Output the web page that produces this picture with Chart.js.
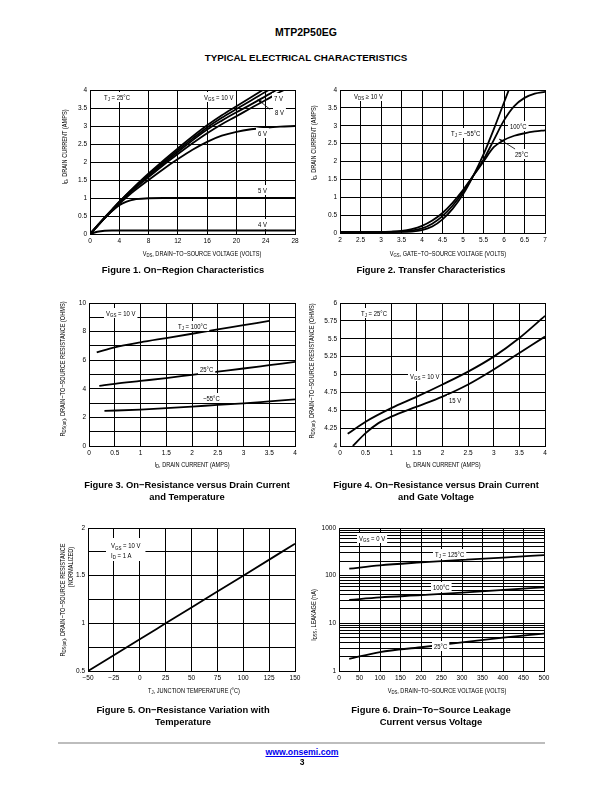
<!DOCTYPE html>
<html>
<head>
<meta charset="utf-8">
<script src="https://cdn.jsdelivr.net/npm/chart.js@4/dist/chart.umd.min.js"></script>
<style>
  body { margin: 0; width: 612px; height: 792px; background: #fff; position: relative; color: #000;
         font-family: "Liberation Sans", Arial, sans-serif; overflow: hidden; }
  canvas { position: absolute; }
  .c { position: absolute; transform: translate(-50%, -50%); white-space: nowrap; }
  .ax { font-size: 7px; transform: translate(-50%, -50%) scaleX(0.8); }
  .yt { transform: translate(-50%, -50%) rotate(-90deg) scaleX(0.8); }
  .cap { font-weight: bold; font-size: 9.4px; text-align: center; line-height: 11.5px; }
  sub { font-size: 75%; vertical-align: -1.5px; line-height: 0; }
</style>
</head>
<body>

<div class="c" style="left:306px;top:32px;font-weight:bold;font-size:10.5px">MTP2P50EG</div>
<div class="c" style="left:306px;top:57px;font-weight:bold;font-size:9.8px">TYPICAL ELECTRICAL CHARACTERISTICS</div>

<canvas id="c1"></canvas>
<canvas id="c2"></canvas>
<canvas id="c3"></canvas>
<canvas id="c4"></canvas>
<canvas id="c5"></canvas>
<canvas id="c6"></canvas>

<!-- axis titles -->
<div class="c ax yt" style="left:64px;top:147px">I<sub>D</sub>, DRAIN CURRENT (AMPS)</div>
<div class="c ax" style="left:202px;top:253px">V<sub>DS</sub>, DRAIN−TO−SOURCE VOLTAGE (VOLTS)</div>
<div class="c ax yt" style="left:313px;top:143px">I<sub>D</sub>, DRAIN CURRENT (AMPS)</div>
<div class="c ax" style="left:448px;top:253px">V<sub>GS</sub>, GATE−TO−SOURCE VOLTAGE (VOLTS)</div>

<div class="c ax yt" style="left:62px;top:369px">R<sub>DS(on)</sub>, DRAIN−TO−SOURCE RESISTANCE (OHMS)</div>
<div class="c ax" style="left:192px;top:464px">I<sub>D</sub>, DRAIN CURRENT (AMPS)</div>
<div class="c ax yt" style="left:311px;top:371px">R<sub>DS(on)</sub>, DRAIN−TO−SOURCE RESISTANCE (OHMS)</div>
<div class="c ax" style="left:443px;top:464px">I<sub>D</sub>, DRAIN CURRENT (AMPS)</div>

<div class="c ax yt" style="left:62px;top:600px">R<sub>DS(on)</sub>, DRAIN−TO−SOURCE RESISTANCE</div>
<div class="c ax yt" style="left:70px;top:567px">(NORMALIZED)</div>
<div class="c ax" style="left:194px;top:690px">T<sub>J</sub>, JUNCTION TEMPERATURE (°C)</div>
<div class="c ax yt" style="left:313px;top:615px">I<sub>DSS</sub>, LEAKAGE (nA)</div>
<div class="c ax" style="left:447px;top:690px">V<sub>DS</sub>, DRAIN−TO−SOURCE VOLTAGE (VOLTS)</div>

<!-- captions -->
<div class="c cap" style="left:183px;top:270px">Figure 1. On−Region Characteristics</div>
<div class="c cap" style="left:431px;top:270px">Figure 2. Transfer Characteristics</div>
<div class="c cap" style="left:187px;top:490px">Figure 3. On−Resistance versus Drain Current<br>and Temperature</div>
<div class="c cap" style="left:436px;top:490px">Figure 4. On−Resistance versus Drain Current<br>and Gate Voltage</div>
<div class="c cap" style="left:183px;top:715px">Figure 5. On−Resistance Variation with<br>Temperature</div>
<div class="c cap" style="left:431px;top:715px">Figure 6. Drain−To−Source Leakage<br>Current versus Voltage</div>

<!-- footer -->
<div style="position:absolute;left:58px;top:742px;width:487px;height:2px;background:#bdbdbd"></div>
<div class="c" style="left:302px;top:752px;font-weight:bold;font-size:8.7px;color:#0000ee;text-decoration:underline">www.onsemi.com</div>
<div class="c" style="left:302px;top:762px;font-weight:bold;font-size:8.5px">3</div>

<script>
// ---------- Figure 1: On-region characteristics (TJ = 25°C)
const vds1 = [0, 1, 2, 3, 4, 5, 6, 8, 10, 12, 14, 16, 18, 20, 22, 24, 26, 28];
const id10V = [0, 0.23, 0.46, 0.68, 0.9, 1.1, 1.3, 1.68, 2.04, 2.38, 2.71, 3.02, 3.3, 3.55, 3.8, 4.05, 4.3, 4.5];
const id9V  = [0, 0.23, 0.45, 0.67, 0.89, 1.09, 1.28, 1.65, 2.0, 2.33, 2.65, 2.96, 3.23, 3.47, 3.71, 3.95, 4.18, 4.4];
const id8V  = [0, 0.22, 0.45, 0.66, 0.88, 1.08, 1.26, 1.62, 1.96, 2.28, 2.6, 2.9, 3.15, 3.38, 3.6, 3.83, 4.06, 4.28];
const id7V  = [0, 0.22, 0.44, 0.65, 0.86, 1.06, 1.24, 1.58, 1.91, 2.22, 2.52, 2.8, 3.05, 3.27, 3.5, 3.72, 3.95, 4.15];
const id6V  = [0, 0.22, 0.44, 0.64, 0.84, 1.02, 1.19, 1.5, 1.8, 2.08, 2.34, 2.56, 2.73, 2.84, 2.91, 2.95, 2.98, 3.0];
const id5V  = [0, 0.22, 0.44, 0.64, 0.8, 0.9, 0.96, 0.99, 1.0, 1.0, 1.0, 1.0, 1.0, 1.0, 1.0, 1.0, 1.0, 1.0];
const id4V  = [0, 0.06, 0.09, 0.1, 0.1, 0.1, 0.1, 0.1, 0.1, 0.1, 0.1, 0.1, 0.1, 0.1, 0.1, 0.1, 0.1, 0.1];

// ---------- Figure 2: Transfer characteristics (VDS >= 10 V)
const vgs2  = [2, 2.5, 3, 3.25, 3.5, 3.75, 4, 4.25, 4.5, 4.75, 5, 5.25, 5.5, 5.75, 6, 6.25, 6.5, 6.75, 7];
const idM55 = [0.03, 0.03, 0.03, 0.03, 0.03, 0.04, 0.08, 0.18, 0.38, 0.68, 1.08, 1.6, 2.2, 2.9, 3.65, 4.4, null, null, null];
const id25C = [0.03, 0.03, 0.03, 0.03, 0.04, 0.07, 0.13, 0.26, 0.47, 0.77, 1.15, 1.6, 2.05, 2.6, 3.15, 3.55, 3.78, 3.9, 3.95];
const id100C = [0.03, 0.03, 0.03, 0.04, 0.06, 0.11, 0.2, 0.35, 0.56, 0.85, 1.2, 1.6, 2.0, 2.4, 2.6, 2.72, 2.79, 2.84, 2.87];

// ---------- Figure 3: RDS(on) vs ID and temperature (VGS = 10 V)
const rds100 = [[0.15, 6.55], [0.5, 6.9], [1, 7.25], [1.5, 7.55], [2, 7.85], [2.5, 8.15], [3, 8.45], [3.5, 8.75]];
const rds25  = [[0.2, 4.2], [0.5, 4.35], [1, 4.55], [1.5, 4.75], [2, 4.98], [2.5, 5.2], [3, 5.42], [3.5, 5.65], [4, 5.88]];
const rdsM55 = [[0.3, 2.45], [1, 2.55], [1.5, 2.65], [2, 2.76], [2.5, 2.87], [3, 2.98], [3.5, 3.12], [4, 3.26]];

// ---------- Figure 4: RDS(on) vs ID and gate voltage (TJ = 25°C)
const rdsV10 = [[0.15, 4.17], [0.5, 4.34], [1, 4.53], [1.5, 4.69], [2, 4.86], [2.5, 5.04], [3, 5.25], [3.5, 5.51], [4, 5.82]];
const rdsV15 = [[0.25, 4.0], [0.5, 4.18], [0.75, 4.32], [1, 4.41], [1.5, 4.55], [2, 4.69], [2.5, 4.86], [3, 5.07], [3.5, 5.3], [4, 5.53]];

// ---------- Figure 5: normalized RDS(on) vs temperature
const tj5 = [-50, 0, 25, 50, 100, 150];
const rdsNorm = [0.5, 0.833, 1.0, 1.167, 1.5, 1.835];

// ---------- Figure 6: IDSS leakage vs VDS (log scale)
const vds6 = [25, 100, 200, 300, 400, 500];
const idss125 = [140, 165, 190, 215, 240, 270];
const idss100 = [31, 35, 39, 44, 50, 57];
const idss25  = [1.8, 2.5, 3.15, 4.0, 5.0, 6.1];
const logTicks6 = [1, 2, 3, 4, 5, 6, 7, 8, 9, 10, 20, 30, 40, 50, 60, 70, 80, 90,
                   100, 200, 300, 400, 500, 600, 700, 800, 900, 1000];
const logLabels6 = [1, 10, 100, 1000];

const FONT = '"Liberation Sans", Arial, sans-serif';
const YW = 34, XH = 16, PT = 8, PR = 12;
const LBL_SIZE = 7, LBL_SX = 0.85;

function xy(xs, ys) { return xs.map((x, i) => ({ x: x, y: ys[i] })); }
function pairs(p) { return p.map(v => ({ x: v[0], y: v[1] })); }
function line(data, width) {
  return { data: data, borderColor: '#000', borderWidth: width || 1.8, pointRadius: 0,
           cubicInterpolationMode: 'monotone', fill: false, spanGaps: false };
}
function num(v) { return String(Math.round(v * 100) / 100); }

function axis(min, max, step, fmt, isX, extra) {
  return Object.assign({
    type: 'linear', min: min, max: max,
    ticks: { stepSize: step, color: '#000', font: { size: 6.5, family: FONT }, padding: 3,
             maxRotation: 0, autoSkip: false, callback: fmt || num },
    grid: { color: '#000', lineWidth: 1, drawTicks: false },
    border: { color: '#000', width: 1 },
    afterFit: isX ? (s => { s.height = XH; }) : (s => { s.width = YW; })
  }, extra || {});
}

// "V_{GS} = 10 V" -> [{t:'V'},{t:'GS',sub:true},{t:' = 10 V'}]
function parseRich(str) {
  const out = [];
  str.split(/(_\{[^}]*\})/).forEach(s => {
    if (!s) return;
    if (s.startsWith('_{')) out.push({ t: s.slice(2, -1), sub: true });
    else out.push({ t: s, sub: false });
  });
  return out;
}
function richWidth(ctx, parts) {
  let w = 0;
  parts.forEach(p => { ctx.font = (p.sub ? LBL_SIZE * 0.75 : LBL_SIZE) + 'px ' + FONT; w += ctx.measureText(p.t).width; });
  return w;
}

// in-plot labels (white box) and leader arrows
function notes(labels, arrowList) {
  return {
    id: 'notes',
    afterDatasetsDraw(chart) {
      const ctx = chart.ctx, sx = chart.scales.x, sy = chart.scales.y;
      ctx.save();
      ctx.textBaseline = 'alphabetic';
      labels.forEach(l => {
        const lines = l.text.split('\n').map(parseRich);
        const lh = l.lh || 8, padX = l.padX || 2, padY = l.padY || 1;
        const tw = Math.max.apply(null, lines.map(p => richWidth(ctx, p))) * LBL_SX;
        const bw = tw + padX * 2, bh = lines.length * lh + padY * 2;
        const px = sx.getPixelForValue(l.x), py = sy.getPixelForValue(l.y);
        const x0 = Math.round(l.left ? px : px - bw / 2), y0 = Math.round(py - bh / 2);
        ctx.fillStyle = '#fff';
        ctx.fillRect(x0, y0, bw, bh);
        ctx.fillStyle = '#000';
        lines.forEach((parts, i) => {
          ctx.save();
          ctx.translate(x0 + padX, y0 + padY + i * lh + lh - 1.5);
          ctx.scale(LBL_SX, 1);
          let cx = 0;
          parts.forEach(p => {
            ctx.font = (p.sub ? LBL_SIZE * 0.75 : LBL_SIZE) + 'px ' + FONT;
            ctx.fillText(p.t, cx, p.sub ? 1.5 : 0);
            cx += ctx.measureText(p.t).width;
          });
          ctx.restore();
        });
      });
      ctx.strokeStyle = '#000'; ctx.fillStyle = '#000'; ctx.lineWidth = 0.8;
      (arrowList || []).forEach(a => {
        const x1 = sx.getPixelForValue(a[0]), y1 = sy.getPixelForValue(a[1]);
        const x2 = sx.getPixelForValue(a[2]), y2 = sy.getPixelForValue(a[3]);
        ctx.beginPath(); ctx.moveTo(x1, y1); ctx.lineTo(x2, y2); ctx.stroke();
        const ang = Math.atan2(y2 - y1, x2 - x1);
        ctx.beginPath();
        ctx.moveTo(x2, y2);
        ctx.lineTo(x2 - 4.5 * Math.cos(ang - 0.35), y2 - 4.5 * Math.sin(ang - 0.35));
        ctx.lineTo(x2 - 4.5 * Math.cos(ang + 0.35), y2 - 4.5 * Math.sin(ang + 0.35));
        ctx.closePath(); ctx.fill();
      });
      ctx.restore();
    }
  };
}

// box = plot area in page pixels
function build(id, box, xAx, yAx, datasets, labels, arrowList) {
  const cv = document.getElementById(id);
  cv.width = box.r - box.l + YW + PR;
  cv.height = box.b - box.t + PT + XH;
  cv.style.left = (box.l - YW) + 'px';
  cv.style.top = (box.t - PT) + 'px';
  return new Chart(cv, {
    type: 'line',
    data: { datasets: datasets },
    options: {
      responsive: false, animation: false, events: [],
      layout: { padding: { top: PT, right: PR, left: 0, bottom: 0 } },
      plugins: { legend: { display: false }, tooltip: { enabled: false } },
      scales: { x: xAx, y: yAx }
    },
    plugins: [notes(labels, arrowList)]
  });
}

build('c1', { l: 90, r: 295, t: 90, b: 234 },
  axis(0, 28, 4, null, true), axis(0, 4, 0.5),
  [line(xy(vds1, id10V)), line(xy(vds1, id9V)), line(xy(vds1, id8V)), line(xy(vds1, id7V)),
   line(xy(vds1, id6V)), line(xy(vds1, id5V), 2), line(xy(vds1, id4V), 2)],
  [{ x: 1.6, y: 3.8, text: 'T_{J} = 25°C', left: true },
   { x: 17.6, y: 3.8, text: 'V_{GS} = 10 V' },
   { x: 25.8, y: 3.78, text: '7 V' },
   { x: 25.9, y: 3.4, text: '8 V' },
   { x: 23.6, y: 2.8, text: '6 V' },
   { x: 23.6, y: 1.22, text: '5 V' },
   { x: 23.6, y: 0.28, text: '4 V' }],
  [[24.6, 3.46, 22.9, 3.74]]);

build('c2', { l: 340, r: 545, t: 90, b: 233 },
  axis(2, 7, 0.5, null, true), axis(0, 4, 0.5),
  [line(xy(vgs2, idM55)), line(xy(vgs2, id25C)), line(xy(vgs2, id100C))],
  [{ x: 2.3, y: 3.83, text: 'V_{DS} ≥ 10 V', left: true },
   { x: 5.07, y: 2.8, text: 'T_{J} = −55°C' },
   { x: 6.34, y: 3.0, text: '100°C' },
   { x: 6.44, y: 2.22, text: '25°C' }],
  [[6.27, 2.35, 5.88, 2.63]]);

build('c3', { l: 89, r: 295, t: 303, b: 446 },
  axis(0, 4, 0.5, null, true),
  axis(0, 10, 1, v => (v % 2 === 0 ? String(v) : '')),
  [line(pairs(rds100)), line(pairs(rds25)), line(pairs(rdsM55))],
  [{ x: 0.62, y: 9.3, text: 'V_{GS} = 10 V' },
   { x: 2.02, y: 8.4, text: 'T_{J} = 100°C' },
   { x: 2.29, y: 5.38, text: '25°C' },
   { x: 2.37, y: 3.36, text: '−55°C' }]);

build('c4', { l: 340, r: 545, t: 303, b: 446 },
  axis(0, 4, 0.5, null, true), axis(4, 6, 0.25),
  [line(pairs(rdsV10)), line(pairs(rdsV15))],
  [{ x: 0.66, y: 5.86, text: 'T_{J} = 25°C' },
   { x: 1.66, y: 4.98, text: 'V_{GS} = 10 V' },
   { x: 2.24, y: 4.64, text: '15 V' }]);

build('c5', { l: 88, r: 295, t: 528, b: 671 },
  axis(-50, 150, 25, v => (v < 0 ? '−' + Math.abs(v) : String(v)), true),
  axis(0.5, 2, 0.25, v => ((v * 2) % 1 === 0 ? num(v) : '')),
  [line(xy(tj5, rdsNorm))],
  [{ x: -33, y: 1.77, text: 'V_{GS} = 10 V\nI_{D} = 1 A', left: true, lh: 9.5, padX: 5, padY: 2 }]);

build('c6', { l: 339, r: 544, t: 528, b: 671 },
  axis(0, 500, 50, null, true),
  axis(1, 1000, null, v => (logLabels6.includes(v) ? String(v) : ''), false, {
    type: 'logarithmic',
    afterBuildTicks: s => { s.ticks = logTicks6.map(v => ({ value: v })); }
  }),
  [line(xy(vds6, idss125)), line(xy(vds6, idss100)), line(xy(vds6, idss25))],
  [{ x: 80, y: 616, text: 'V_{GS} = 0 V' },
   { x: 271, y: 285, text: 'T_{J} = 125°C' },
   { x: 249, y: 58, text: '100°C' },
   { x: 249, y: 3.35, text: '25°C' }]);
</script>
</body>
</html>
